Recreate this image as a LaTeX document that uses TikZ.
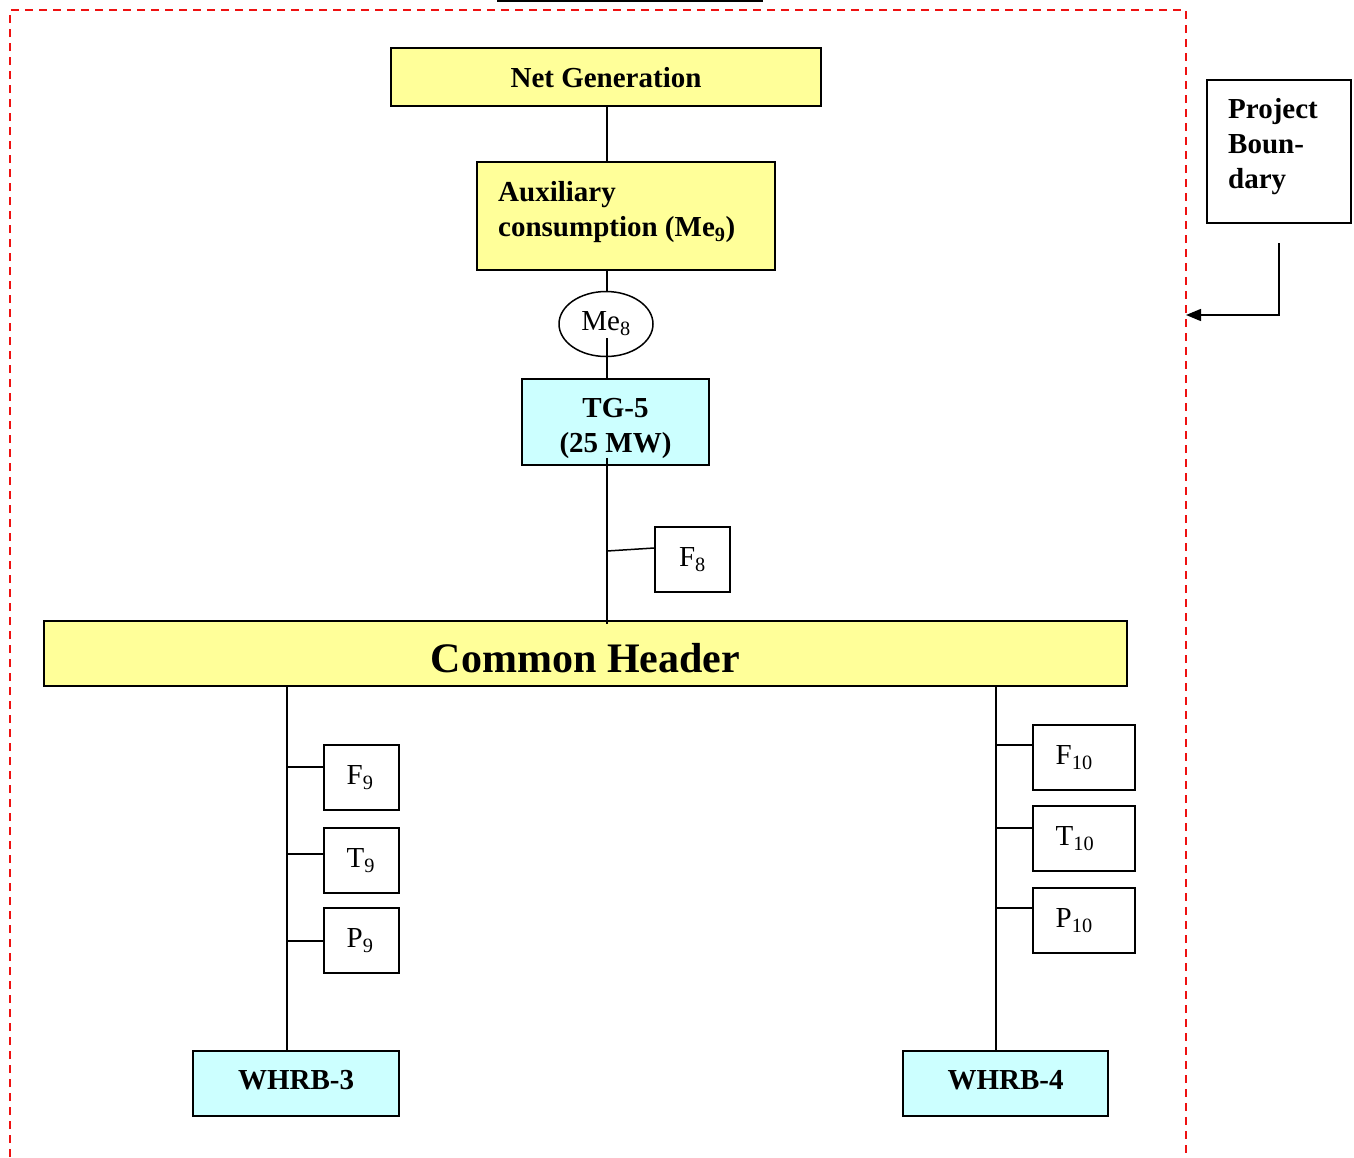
\documentclass[tikz,border=0pt]{standalone}
\usepackage{fontspec}
\setmainfont{Liberation Serif}
\usetikzlibrary{shapes.geometric,arrows.meta}
\definecolor{boxyellow}{HTML}{FFFF99}
\definecolor{boxcyan}{HTML}{CCFFFF}
\definecolor{bndred}{HTML}{EE1111}
\tikzset{
  rbox/.style={draw=black,line width=1.6pt,inner sep=0pt,minimum width=#1},
  ybox/.style={rbox=#1,fill=boxyellow},
  cbox/.style={rbox=#1,fill=boxcyan},
  wbox/.style={rbox=#1,fill=white},
  btxt/.style={font=\fontsize{29}{35}\selectfont\bfseries},
  ntxt/.style={font=\fontsize{29}{35}\selectfont},
  conn/.style={line width=1.5pt,draw=black},
}
\begin{document}
\begin{tikzpicture}[x=1pt,y=-1pt]
\useasboundingbox (0,0) rectangle (1354,1157);
% project boundary (dashed)
\draw[bndred,line width=1.5pt,dash pattern=on 8pt off 6pt] (10,1157) -- (10,10) -- (1186,10) -- (1186,1157);
\draw[line width=1.6pt] (497,1) -- (763,1);

% top chain
\node[ybox=430pt,minimum height=58pt] (net) at (606,77) {};
\node[btxt] (nett) at (606,78) {Net Generation};
\node[ybox=298pt,minimum height=108pt] (aux) at (626,216) {};
\node[btxt,align=left,anchor=west,inner sep=0pt] (auxt) at (498,212) {Auxiliary\\consumption (Me\textsubscript{9})};
\node[draw,line width=1.5pt,ellipse,minimum width=94pt,minimum height=65pt,inner sep=0pt,fill=white,ntxt] (me8) at (606,324) {Me\textsubscript{8}};
\node[cbox=187pt,minimum height=86pt] (tg) at (615.5,422) {};
\node[btxt,align=center] (tgt) at (615.5,428) {TG-5\\(25 MW)};
\node[wbox=75pt,minimum height=65pt,ntxt] (f8) at (692.5,559.5) {F\textsubscript{8}};

\node[ybox=1083pt,minimum height=65pt] (header) at (585.5,653.5) {};
\node[font=\fontsize{42}{50}\selectfont\bfseries] (headert) at (585.5,658.5) {Common Header};

% boilers
\node[cbox=206pt,minimum height=65pt] (whrb3) at (296,1083.5) {};
\node[btxt] (whrb3t) at (296,1080.5) {WHRB-3};
\node[cbox=205pt,minimum height=65pt] (whrb4) at (1005.5,1083.5) {};
\node[btxt] (whrb4t) at (1005.5,1080.5) {WHRB-4};

% left meters
\node[wbox=75pt,minimum height=65pt] (f9) at (361.5,777.5) {};
\node[ntxt,anchor=west] (f9t) at ([xshift=20pt]f9.west) {F\textsubscript{9}};
\node[wbox=75pt,minimum height=65pt] (t9) at (361.5,860.5) {};
\node[ntxt,anchor=west] (t9t) at ([xshift=20pt]t9.west) {T\textsubscript{9}};
\node[wbox=75pt,minimum height=65pt] (p9) at (361.5,940.5) {};
\node[ntxt,anchor=west] (p9t) at ([xshift=20pt]p9.west) {P\textsubscript{9}};

% right meters
\node[wbox=102pt,minimum height=65pt] (f10) at (1084,757.5) {};
\node[ntxt,anchor=west] (f10t) at ([xshift=20pt]f10.west) {F\textsubscript{10}};
\node[wbox=102pt,minimum height=65pt] (t10) at (1084,838.5) {};
\node[ntxt,anchor=west] (t10t) at ([xshift=20pt]t10.west) {T\textsubscript{10}};
\node[wbox=102pt,minimum height=65pt] (p10) at (1084,920.5) {};
\node[ntxt,anchor=west] (p10t) at ([xshift=20pt]p10.west) {P\textsubscript{10}};

% project boundary label
\node[rbox=144pt,minimum height=143pt] (pb) at (1279,151.5) {};
\node[btxt,anchor=north west,align=left,inner sep=0pt] (pbt) at (1228,98) {Project\\Boun-\\dary};

% connectors
\coordinate (j8) at (607,551);
\coordinate (l3) at (287,685);
\coordinate (l4) at (996,685);
\coordinate (pbarr) at (1279,243);
\coordinate (bnd) at (1186,315);

\draw[conn] (net.south -| j8) -- (aux.north -| j8);
\draw[conn] (aux.south -| j8) -- (me8.north -| j8);
\draw[conn] ([yshift=-14pt]me8.center -| j8) -- (tg.north -| j8);
\draw[conn] ([yshift=8pt]tg.south -| j8) -- ([yshift=-4pt]header.north -| j8);
\draw[conn] (j8) -- ([yshift=11.5pt]f8.west);

\draw[conn] (l3) -- (l3 |- whrb3.north);
\draw[conn] (l4) -- (l4 |- whrb4.north);
\coordinate (a9) at ([yshift=10.5pt]f9.west);
\coordinate (b9) at ([yshift=6.5pt]t9.west);
\coordinate (c9) at ([yshift=-0.5pt]p9.west);
\coordinate (a10) at ([yshift=12.5pt]f10.west);
\coordinate (b10) at ([yshift=10.5pt]t10.west);
\coordinate (c10) at ([yshift=12.5pt]p10.west);
\draw[conn] (l3 |- a9) -- (a9);
\draw[conn] (l3 |- b9) -- (b9);
\draw[conn] (l3 |- c9) -- (c9);
\draw[conn] (l4 |- a10) -- (a10);
\draw[conn] (l4 |- b10) -- (b10);
\draw[conn] (l4 |- c10) -- (c10);

\draw[conn,-{Triangle[length=15pt,width=12pt]}] (pbarr) |- (bnd);
\end{tikzpicture}
\end{document}
